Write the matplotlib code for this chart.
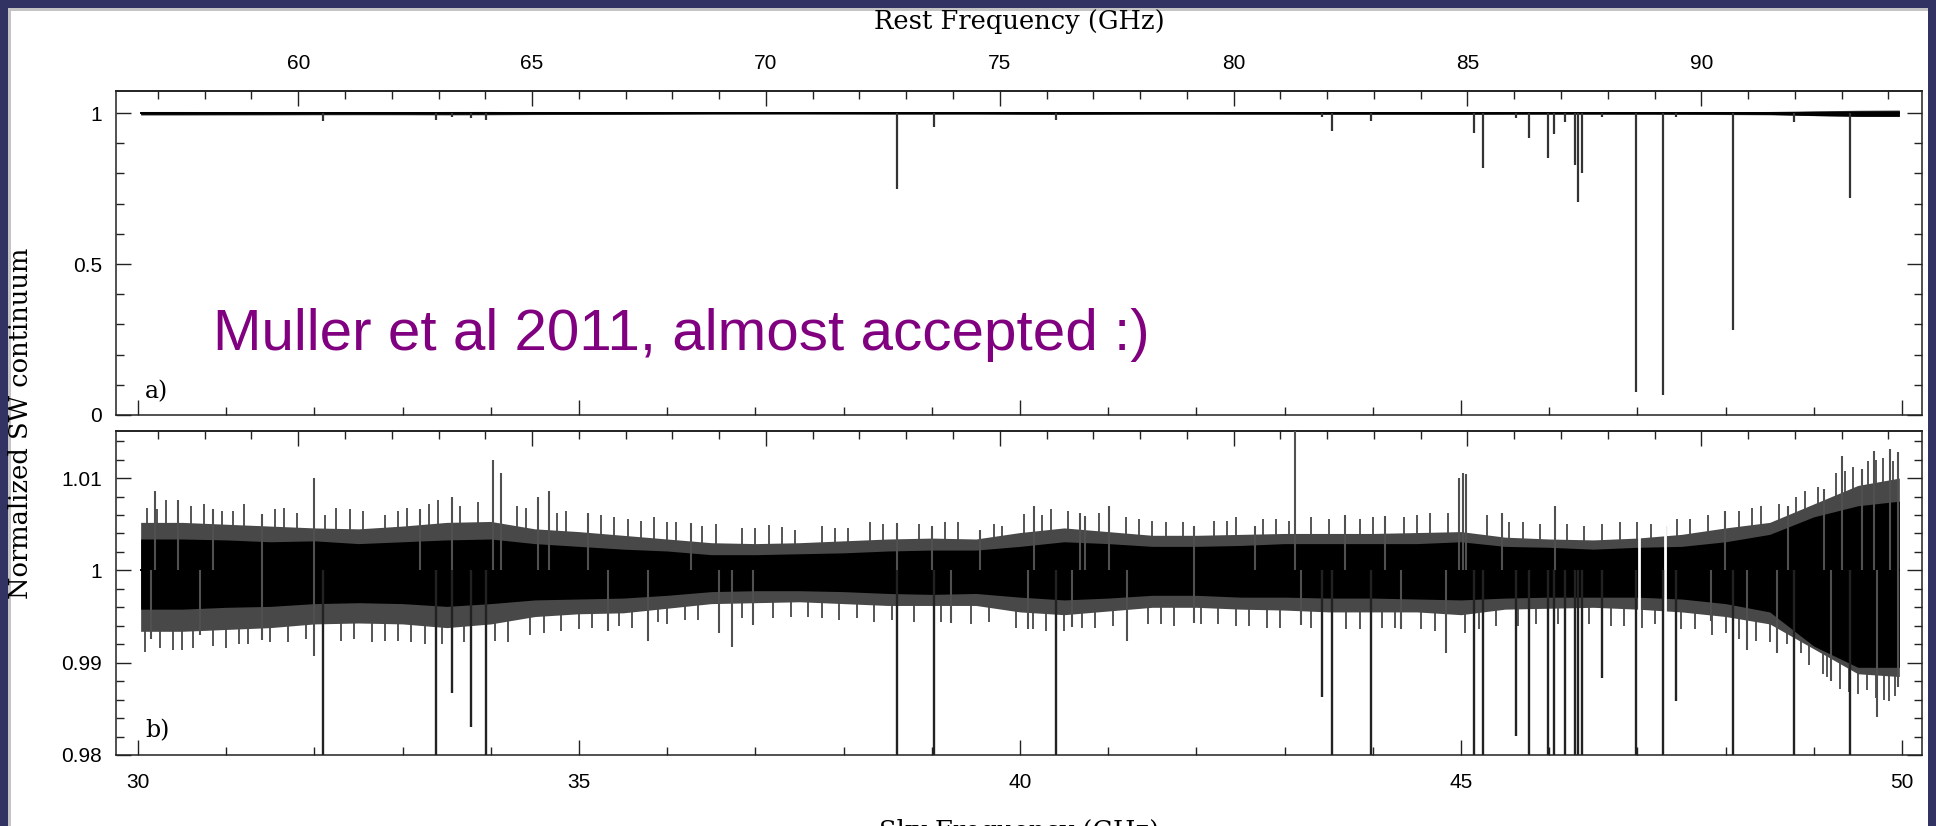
import numpy as np
import matplotlib
matplotlib.use('Agg')
import matplotlib.pyplot as plt
from matplotlib.patches import Rectangle
from matplotlib.ticker import MultipleLocator, FixedLocator, FixedFormatter

# redshift of the absorber: rest = sky * (1 + z)
Z = 0.88582

# noise envelope of the normalized spectrum, sampled in sky frequency (GHz)
env_freq = [30.03, 30.5, 31.0, 31.5, 32.0, 32.5, 33.0, 33.5, 34.0, 34.5,
            35.0, 35.5, 36.0, 36.5, 37.0, 37.5, 38.0, 38.5, 39.0, 39.5,
            40.0, 40.5, 41.0, 41.5, 42.0, 42.5, 43.0, 43.5, 44.0, 44.5,
            45.0, 45.5, 46.0, 46.5, 47.0, 47.5, 48.0, 48.5, 49.0, 49.5, 49.97]
# solid black part of the noise
core_hi = [1.0034, 1.0034, 1.0033, 1.0031, 1.0032, 1.0029, 1.0031, 1.0033, 1.0034, 1.0029,
           1.0026, 1.0023, 1.0021, 1.0017, 1.0017, 1.0018, 1.0019, 1.0021, 1.0022, 1.0022,
           1.0026, 1.0031, 1.0029, 1.0026, 1.0026, 1.0027, 1.0029, 1.0029, 1.0029, 1.0029,
           1.0031, 1.0026, 1.0025, 1.0023, 1.0025, 1.0026, 1.0031, 1.0039, 1.0058, 1.0070, 1.0075]
core_lo = [0.9958, 0.9958, 0.9960, 0.9961, 0.9964, 0.9965, 0.9964, 0.9961, 0.9964, 0.9968,
           0.9969, 0.9970, 0.9973, 0.9977, 0.9978, 0.9978, 0.9977, 0.9975, 0.9974, 0.9975,
           0.9971, 0.9968, 0.9970, 0.9973, 0.9973, 0.9971, 0.9971, 0.9970, 0.9970, 0.9969,
           0.9968, 0.9970, 0.9971, 0.9971, 0.9971, 0.9969, 0.9964, 0.9955, 0.9918, 0.9895, 0.9895]
# dense grey part of the noise
spread_hi = [1.0052, 1.0052, 1.0050, 1.0048, 1.0046, 1.0045, 1.0048, 1.0052, 1.0053, 1.0045,
             1.0042, 1.0038, 1.0034, 1.0030, 1.0029, 1.0030, 1.0032, 1.0034, 1.0035, 1.0034,
             1.0041, 1.0046, 1.0042, 1.0038, 1.0038, 1.0039, 1.0040, 1.0040, 1.0040, 1.0041,
             1.0042, 1.0036, 1.0034, 1.0033, 1.0035, 1.0039, 1.0046, 1.0052, 1.0072, 1.0092, 1.0100]
spread_lo = [0.9934, 0.9934, 0.9936, 0.9938, 0.9942, 0.9943, 0.9942, 0.9938, 0.9942, 0.9950,
             0.9953, 0.9954, 0.9959, 0.9964, 0.9965, 0.9966, 0.9964, 0.9962, 0.9962, 0.9962,
             0.9955, 0.9952, 0.9956, 0.9960, 0.9960, 0.9958, 0.9957, 0.9955, 0.9955, 0.9955,
             0.9952, 0.9958, 0.9959, 0.9960, 0.9958, 0.9955, 0.9950, 0.9942, 0.9915, 0.9888, 0.9885]

# absorption lines: sky frequency (GHz) and minimum normalized flux
line_freq = [32.10, 33.38, 33.56, 33.77, 33.94, 38.61, 39.03, 40.41, 43.42, 43.54,
             43.98, 45.15, 45.25, 45.62, 45.77, 45.99, 46.05, 46.18, 46.29, 46.33,
             46.37, 46.60, 46.99, 47.29, 47.44, 48.08, 48.78, 49.41]
line_min = [0.975, 0.976, 0.9867, 0.9830, 0.976, 0.75, 0.955, 0.977, 0.9863, 0.94,
            0.975, 0.934, 0.818, 0.9821, 0.917, 0.851, 0.93, 0.97, 0.828, 0.705,
            0.80, 0.9883, 0.076, 0.066, 0.9859, 0.28, 0.97, 0.72]

# strongest single-channel noise excursions
spike_freq = [30.19, 30.45, 30.85, 31.41, 32.00, 33.20, 33.56, 34.03, 34.12, 34.53,
              34.66, 35.10, 36.27, 38.61, 39.00, 39.55, 40.16, 40.68, 40.74, 41.01,
              41.97, 42.67, 43.12, 43.69, 44.14, 44.98, 45.02, 45.06, 45.47, 46.07,
              47.32, 47.99, 48.71, 49.12, 49.32, 49.55, 49.68, 49.86, 49.95,
              30.15, 30.70, 31.41, 32.00, 35.33, 35.78, 36.59, 36.73, 36.97, 39.22,
              40.09, 40.59, 41.21, 41.97, 43.19, 44.32, 44.83, 47.83, 48.24, 48.58,
              49.20, 49.72, 49.95]
spike_val = [1.0086, 1.0076, 1.0066, 1.0061, 1.0100, 1.0066, 1.0079, 1.0120, 1.0106, 1.0079,
             1.0086, 1.0062, 1.0051, 1.0051, 1.0048, 1.0044, 1.0070, 1.0062, 1.0059, 1.0070,
             1.0048, 1.0048, 1.0160, 1.0060, 1.0059, 1.0100, 1.0106, 1.0104, 1.0062, 1.0070,
             1.0048, 1.0064, 1.0070, 1.0088, 1.0124, 1.0110, 1.0129, 1.0131, 1.0128,
             0.9926, 0.9930, 0.9925, 0.9907, 0.9934, 0.9923, 0.9932, 0.9917, 0.9941, 0.9943,
             0.9936, 0.9939, 0.9923, 0.9943, 0.9941, 0.9937, 0.9910, 0.9945, 0.9914, 0.9911,
             0.9880, 0.9841, 0.9874]

# weaker excursions along the upper and lower edge of the noise
edge_up_freq = [30.10, 30.32, 30.60, 30.95, 31.20, 31.55, 31.80, 32.25, 32.55, 32.80,
                33.05, 33.40, 33.85, 34.30, 34.85, 35.25, 35.55, 35.85, 36.10, 36.55,
                36.85, 37.15, 37.45, 37.75, 38.05, 38.30, 38.85, 39.30, 39.80, 40.05,
                40.35, 40.90, 41.35, 41.65, 42.20, 42.45, 42.90, 43.30, 43.85, 44.35,
                44.65, 45.30, 45.70, 45.90, 46.40, 46.80, 47.15, 47.60, 47.80, 48.15,
                48.40, 48.60, 48.90, 49.05, 49.25, 49.45, 49.62, 49.78, 49.90,
                30.22, 30.75, 31.08, 31.65, 32.12, 32.40, 32.95, 33.30, 33.65, 34.40,
                34.75, 35.40, 35.70, 36.00, 36.40, 37.00, 37.30, 37.90, 38.45, 39.15,
                39.70, 40.25, 40.55, 41.20, 41.50, 41.85, 42.35, 42.75, 43.05, 43.50,
                44.00, 44.50, 44.85, 45.55, 46.20, 46.60, 47.00, 47.45, 48.30, 48.80,
                49.35, 49.70]
edge_up_val = [1.0068, 1.0076, 1.0070, 1.0064, 1.0072, 1.0066, 1.0062, 1.0068, 1.0064, 1.0060,
               1.0068, 1.0076, 1.0074, 1.0070, 1.0064, 1.0060, 1.0056, 1.0058, 1.0052, 1.0050,
               1.0046, 1.0049, 1.0044, 1.0048, 1.0046, 1.0052, 1.0050, 1.0052, 1.0048, 1.0061,
               1.0066, 1.0062, 1.0056, 1.0052, 1.0054, 1.0058, 1.0056, 1.0058, 1.0056, 1.0058,
               1.0062, 1.0060, 1.0052, 1.0050, 1.0048, 1.0052, 1.0050, 1.0056, 1.0060, 1.0064,
               1.0070, 1.0072, 1.0086, 1.0090, 1.0106, 1.0112, 1.0118, 1.0122, 1.0118,
               1.0066, 1.0072, 1.0064, 1.0068, 1.0060, 1.0066, 1.0064, 1.0072, 1.0070, 1.0068,
               1.0062, 1.0058, 1.0054, 1.0052, 1.0048, 1.0046, 1.0047, 1.0046, 1.0050, 1.0052,
               1.0050, 1.0060, 1.0064, 1.0058, 1.0054, 1.0052, 1.0054, 1.0056, 1.0054, 1.0056,
               1.0058, 1.0060, 1.0062, 1.0052, 1.0050, 1.0050, 1.0052, 1.0056, 1.0068, 1.0080,
               1.0108, 1.0120]
edge_lo_freq = [30.08, 30.40, 30.62, 31.00, 31.25, 31.70, 32.30, 32.65, 32.95, 33.25,
                34.20, 34.45, 34.80, 35.15, 35.60, 36.00, 36.35, 37.20, 37.60, 37.95,
                38.35, 38.80, 39.65, 39.95, 40.30, 40.85, 41.45, 41.75, 42.25, 42.60,
                42.95, 43.70, 44.10, 44.55, 45.05, 45.40, 45.85, 46.45, 46.85, 47.20,
                47.65, 48.00, 48.35, 48.70, 48.95, 49.10, 49.30, 49.50, 49.60, 49.80, 49.92,
                30.25, 30.50, 30.85, 31.15, 31.50, 31.90, 32.45, 32.80, 33.10, 33.45,
                33.70, 34.05, 34.60, 35.00, 35.45, 35.90, 36.20, 36.85, 37.40, 37.75,
                38.15, 38.55, 39.10, 39.45, 40.15, 40.50, 40.70, 41.05, 41.60, 42.05,
                42.45, 42.80, 43.30, 43.85, 44.25, 44.70, 45.20, 45.65, 46.10, 46.70,
                47.05, 47.50, 47.85, 48.15, 48.50, 48.85, 49.15, 49.40, 49.70, 49.85]
edge_lo_val = [0.9912, 0.9914, 0.9916, 0.9916, 0.9920, 0.9922, 0.9924, 0.9922, 0.9924, 0.9920,
               0.9922, 0.9930, 0.9934, 0.9938, 0.9938, 0.9942, 0.9946, 0.9948, 0.9950, 0.9946,
               0.9944, 0.9944, 0.9944, 0.9938, 0.9934, 0.9938, 0.9942, 0.9940, 0.9942, 0.9940,
               0.9938, 0.9936, 0.9938, 0.9936, 0.9932, 0.9940, 0.9942, 0.9942, 0.9940, 0.9942,
               0.9936, 0.9932, 0.9924, 0.9920, 0.9898, 0.9888, 0.9872, 0.9866, 0.9870, 0.9860, 0.9864,
               0.9916, 0.9914, 0.9918, 0.9920, 0.9922, 0.9926, 0.9926, 0.9924, 0.9922, 0.9920,
               0.9922, 0.9924, 0.9932, 0.9936, 0.9940, 0.9944, 0.9946, 0.9948, 0.9950, 0.9948,
               0.9948, 0.9946, 0.9944, 0.9942, 0.9936, 0.9934, 0.9938, 0.9940, 0.9942, 0.9942,
               0.9940, 0.9938, 0.9938, 0.9936, 0.9938, 0.9934, 0.9936, 0.9940, 0.9942, 0.9940,
               0.9938, 0.9936, 0.9930, 0.9926, 0.9922, 0.9910, 0.9884, 0.9868, 0.9862, 0.9858]

# blanked channels next to the saturated lines
gap_freq = [47.02, 47.31]

W, H = 1936, 826
NAVY = '#333363'
GREY = '#484848'
TICKFONT = 'Liberation Sans'
LABELFONT = 'DejaVu Serif'


def sky_to_rest(f):
    return np.asarray(f) * (1 + Z)


def rest_to_sky(f):
    return np.asarray(f) / (1 + Z)


def style_axes(ax, ymajor, ylabels, yminor):
    for s in ax.spines.values():
        s.set_linewidth(1.1)
        s.set_color('#222222')
    ax.set_xlim(29.7506, 50.227)
    ax.xaxis.set_major_locator(FixedLocator([30, 35, 40, 45, 50]))
    ax.xaxis.set_minor_locator(MultipleLocator(1))
    ax.yaxis.set_major_locator(FixedLocator(ymajor))
    ax.yaxis.set_major_formatter(FixedFormatter(ylabels))
    ax.yaxis.set_minor_locator(MultipleLocator(yminor))
    ax.tick_params(which='both', direction='in', top=False, right=True,
                   color='#222222', width=1.0)
    ax.tick_params(which='major', length=10.5, pad=10, labelsize=15)
    ax.tick_params(which='minor', length=5.8)
    for lab in ax.get_yticklabels():
        lab.set_family(TICKFONT)

    top = ax.secondary_xaxis('top', functions=(sky_to_rest, rest_to_sky))
    top.spines['top'].set_linewidth(1.1)
    top.xaxis.set_major_locator(FixedLocator([60, 65, 70, 75, 80, 85, 90]))
    top.xaxis.set_minor_locator(FixedLocator(list(range(57, 95))))
    top.tick_params(which='both', direction='in', color='#222222', width=1.0)
    top.tick_params(which='major', length=10.5, pad=13, labelsize=15)
    top.tick_params(which='minor', length=5.8)
    return top


def draw_spectrum(ax):
    ax.fill_between(env_freq, spread_lo, spread_hi, color=GREY, lw=0, zorder=1)
    ax.fill_between(env_freq, core_lo, core_hi, color='black', lw=0, zorder=2)
    ax.plot(env_freq, [1.0] * len(env_freq), color='black', lw=1.4, zorder=3)


fig = plt.figure(figsize=(W / 100, H / 100), dpi=100, facecolor=NAVY)
fig.add_artist(Rectangle((8 / W, 0), 1920 / W, 818 / H, transform=fig.transFigure,
                         facecolor='#c4c4c4', edgecolor='none', zorder=0))
fig.add_artist(Rectangle((11 / W, 0), 1917 / W, 815 / H, transform=fig.transFigure,
                         facecolor='white', edgecolor='none', zorder=0))

ax_a = fig.add_axes([116 / W, 411 / H, 1806 / W, 324 / H])
ax_b = fig.add_axes([116 / W, 71 / H, 1806 / W, 324 / H])
for ax in (ax_a, ax_b):
    ax.patch.set_alpha(0)

# panel a: full depth of the absorption lines
draw_spectrum(ax_a)
ax_a.vlines(line_freq, line_min, 1.0, color='#333333', lw=1.6, zorder=4)
ax_a.set_ylim(0, 1.073)
top_a = style_axes(ax_a, [0, 0.5, 1], ['0', '0.5', '1'], 0.1)
ax_a.tick_params(labelbottom=False)
for lab in top_a.get_xticklabels():
    lab.set_family(TICKFONT)
ax_a.text(0.016, 0.052, 'a)', transform=ax_a.transAxes, fontsize=17,
          family=LABELFONT, ha='left', va='baseline')

# panel b: zoom on the continuum level
draw_spectrum(ax_b)
ax_b.vlines(edge_up_freq, 1.0, edge_up_val, color=GREY, lw=1.3, zorder=1)
ax_b.vlines(edge_lo_freq, edge_lo_val, 1.0, color=GREY, lw=1.3, zorder=1)
ax_b.vlines(spike_freq, 1.0, spike_val, color='#505050', lw=1.5, zorder=3)
ax_b.vlines(gap_freq, 0.9955, 1.0055, color='white', lw=2.0, zorder=4)
ax_b.vlines(line_freq, line_min, 1.0, color='#222222', lw=1.7, zorder=5)
ax_b.set_ylim(0.98, 1.0151)
top_b = style_axes(ax_b, [0.98, 0.99, 1.0, 1.01], ['0.98', '0.99', '1', '1.01'], 0.002)
top_b.tick_params(labeltop=False)
ax_b.tick_params(axis='x', which='major', pad=13)
for lab in ax_b.get_xticklabels():
    lab.set_family(TICKFONT)
ax_b.text(0.016, 0.056, 'b)', transform=ax_b.transAxes, fontsize=17,
          family=LABELFONT, ha='left', va='baseline')

fig.text(1019 / W, 1 - 22 / H, 'Rest Frequency (GHz)', family=LABELFONT,
         fontsize=18.5, ha='center', va='center')
fig.text(1019 / W, 1 - 831 / H, 'Sky Frequency (GHz)', family=LABELFONT,
         fontsize=18.5, ha='center', va='center')
fig.text(21 / W, 1 - 423 / H, 'Normalized SW continuum', family=LABELFONT,
         fontsize=18.5, rotation=90, ha='center', va='center')

fig.text(213 / W, 1 - 350 / H, 'Muller et al 2011, almost accepted :)',
         family='Liberation Sans', fontsize=42, color='#800080',
         ha='left', va='baseline')

fig.savefig('out.png', dpi=100, facecolor=NAVY)
